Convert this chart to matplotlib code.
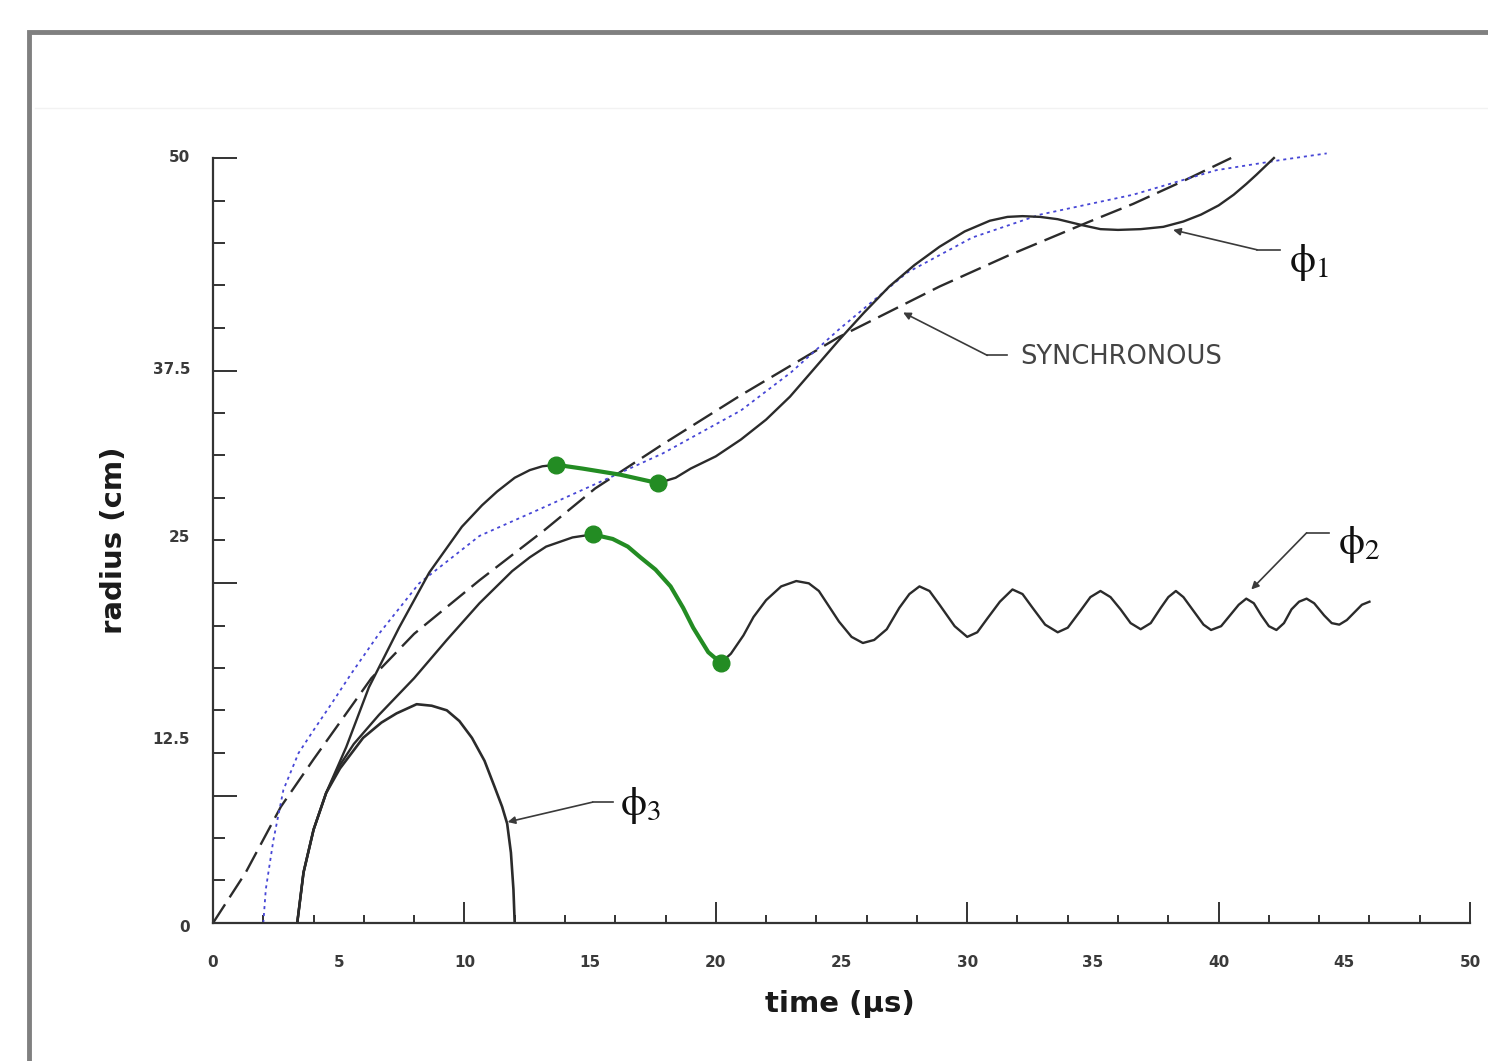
import matplotlib.pyplot as plt
from matplotlib.patches import Rectangle
from matplotlib.lines import Line2D

plt.rcParams['font.family'] = ['DejaVu Sans']
plt.rcParams['lines.scale_dashes'] = False
plt.rcParams['lines.solid_joinstyle'] = 'round'
plt.rcParams['lines.dash_joinstyle'] = 'round'

# --- axis decoration -------------------------------------------------------
x_long_ticks = [0, 10, 20, 30, 40, 50]
x_short_ticks = list(range(0, 51, 2))
xtick_labels = ['0', '5', '10', '15', '20', '25', '30', '35', '40', '45', '50']
xtick_label_pos = [0, 5, 10, 15, 20, 25, 30, 35, 40, 45, 50]

y_long_ticks = [50, 36.11, 22.22, 8.33]
y_short_ticks = [0, 2.78, 5.56, 8.33, 11.11, 13.89, 16.67, 19.44, 22.22, 25.0,
                 27.78, 30.56, 33.33, 36.11, 38.89, 41.67, 44.44, 47.22, 50]
ytick_labels = ['50', '37.5', '25', '12.5', '0']
ytick_label_pos = [50, 36.2, 25.2, 12.0, -0.3]

# --- curves (time in us, radius in cm) --------------------------------------
sync_t = [0, 1.3, 2.7, 4.0, 6.3, 8.0, 10.6, 13.2, 15.2, 17.9, 21.0, 24.9,
          28.9, 31.6, 34.8, 36.6, 38.6, 40.5]
sync_r = [0, 3.3, 7.6, 10.7, 16.0, 18.9, 22.4, 25.7, 28.4, 31.3, 34.5, 38.3,
          41.6, 43.6, 45.8, 47.0, 48.5, 50.0]

blue_t = [2.0, 2.1, 2.4, 2.8, 3.4, 4.0, 4.7, 5.5, 6.6, 8.2, 10.6, 13.2, 15.9,
          17.9, 21.0, 23.0, 24.9, 27.6, 30.2, 32.9, 36.6, 39.9, 42.6, 44.3]
blue_r = [0, 2.2, 5.4, 8.7, 11.1, 12.6, 14.3, 16.3, 18.9, 22.2, 25.3, 27.2,
          29.2, 30.7, 33.5, 36.0, 38.8, 42.5, 44.8, 46.3, 47.6, 49.2, 49.9, 50.3]

phi1_a_t = [3.35, 3.6, 4.0, 4.5, 5.3, 6.2, 7.4, 8.6, 9.9, 10.7, 11.3, 12.0,
            12.6, 13.1, 13.65]
phi1_a_r = [0, 3.3, 6.1, 8.5, 11.5, 15.4, 19.3, 22.9, 25.9, 27.3, 28.2, 29.1,
            29.6, 29.85, 29.95]

green1_t = [13.65, 14.7, 16.2, 17.7]
green1_r = [29.95, 29.7, 29.3, 28.75]

phi1_b_t = [17.7, 18.4, 19.0, 20.0, 21.0, 22.0, 22.95, 23.9, 24.9, 25.9, 26.9,
            27.9, 28.9, 29.9, 30.9, 31.6, 32.2, 32.9, 33.6, 34.6, 35.3, 36.0,
            36.9, 37.8, 38.6, 39.3, 40.0, 40.6, 41.1, 41.5, 42.2]
phi1_b_r = [28.75, 29.1, 29.7, 30.5, 31.6, 32.9, 34.4, 36.2, 38.1, 39.9, 41.6,
            43.0, 44.2, 45.2, 45.9, 46.15, 46.2, 46.15, 46.0, 45.6, 45.35, 45.3,
            45.35, 45.5, 45.85, 46.3, 46.9, 47.6, 48.3, 48.9, 50.0]

phi2_a_t = [3.35, 3.6, 4.0, 4.5, 5.0, 5.6, 6.6, 8.0, 9.3, 10.6, 11.9, 12.6,
            13.25, 14.3, 15.1]
phi2_a_r = [0, 3.3, 6.1, 8.5, 10.2, 11.7, 13.6, 16.0, 18.5, 20.9, 23.0, 23.9,
            24.6, 25.2, 25.4]

green2_t = [15.1, 15.9, 16.5, 17.0, 17.6, 18.2, 18.7, 19.1, 19.7, 20.2]
green2_r = [25.4, 25.1, 24.6, 23.9, 23.1, 22.0, 20.6, 19.3, 17.7, 17.0]

phi2_b_t = [20.2, 20.6, 21.1, 21.5, 22.0, 22.6, 23.2, 23.7, 24.1, 24.5, 24.9,
            25.4, 25.85, 26.3, 26.8, 27.3, 27.7, 28.1, 28.5, 28.9, 29.5, 30.0,
            30.4, 30.8, 31.3, 31.8, 32.2, 32.6, 33.1, 33.6, 34.0, 34.5, 34.9,
            35.3, 35.7, 36.1, 36.5, 36.9, 37.3, 37.7, 38.0, 38.3, 38.6, 39.0,
            39.4, 39.7, 40.1, 40.45, 40.8, 41.1, 41.4, 41.7, 42.0, 42.3, 42.6,
            42.9, 43.2, 43.5, 43.8, 44.2, 44.5, 44.8, 45.1, 45.4, 45.7, 46.0]
phi2_b_r = [17.0, 17.6, 18.8, 20.0, 21.1, 22.0, 22.35, 22.2, 21.7, 20.7, 19.7,
            18.7, 18.3, 18.5, 19.2, 20.6, 21.5, 22.0, 21.7, 20.8, 19.4, 18.7,
            19.0, 19.9, 21.0, 21.8, 21.5, 20.6, 19.5, 19.0, 19.3, 20.4, 21.3,
            21.7, 21.3, 20.5, 19.6, 19.2, 19.6, 20.6, 21.3, 21.7, 21.3, 20.4,
            19.5, 19.15, 19.4, 20.1, 20.8, 21.2, 20.9, 20.1, 19.4, 19.15, 19.6,
            20.5, 21.0, 21.2, 20.9, 20.1, 19.6, 19.5, 19.8, 20.3, 20.8, 21.0]

phi3_t = [3.35, 3.6, 4.0, 4.5, 5.05, 5.97, 6.7, 7.3, 8.1, 8.7, 9.3, 9.8, 10.3,
          10.8, 11.2, 11.5, 11.7, 11.85, 11.95, 12.0]
phi3_r = [0, 3.3, 6.1, 8.5, 10.1, 12.1, 13.1, 13.7, 14.3, 14.2, 13.9, 13.2,
          12.1, 10.6, 8.9, 7.6, 6.5, 4.6, 2.2, 0]

# pointer callouts: (arrow tip, elbow, end of short horizontal, label position)
callouts = [
    ((38.19, 45.3), (41.53, 44.0), 42.44, (43.6, 43.2), r'$\mathrm{\phi}_{1}$'),
    ((41.3, 21.8), (43.5, 25.5), 44.4, (45.6, 24.8), r'$\mathrm{\phi}_{2}$'),
    ((11.72, 6.6), (15.1, 7.9), 15.9, (17.0, 7.7), r'$\mathrm{\phi}_{3}$'),
]
sync_tip, sync_elbow, sync_hend, sync_text = (27.45, 39.9), (30.8, 37.1), 31.6, (32.1, 37.0)

axis_col = '#333333'
curve_col = '#2b2b2b'
green = '#238c23'
blue = '#4646d6'

fig = plt.figure(figsize=(14.88, 10.61), dpi=100)
ax = fig.add_axes([0.14315, 0.13007, 0.84476, 0.72102])
ax.set_xlim(0, 50)
ax.set_ylim(0, 50)

for s in ['top', 'right']:
    ax.spines[s].set_visible(False)
for s in ['left', 'bottom']:
    ax.spines[s].set_color(axis_col)
    ax.spines[s].set_linewidth(1.6)

ax.set_xticks(x_long_ticks)
ax.set_xticks(x_short_ticks, minor=True)
ax.set_yticks(y_long_ticks)
ax.set_yticks(y_short_ticks, minor=True)
ax.tick_params(which='both', direction='in', labelbottom=False, labelleft=False,
               color=axis_col, width=1.4)
ax.tick_params(axis='x', which='major', length=15)
ax.tick_params(axis='x', which='minor', length=6)
ax.tick_params(axis='y', which='major', length=17)
ax.tick_params(axis='y', which='minor', length=8.5)

for lab, pos in zip(xtick_labels, xtick_label_pos):
    ax.text(pos, -0.051, lab, transform=ax.get_xaxis_transform(), ha='center',
            va='center', fontsize=11, fontweight='bold', color='#3a3a3a', clip_on=False)
for lab, pos in zip(ytick_labels, ytick_label_pos):
    ax.text(-0.0183, pos, lab, transform=ax.get_yaxis_transform(), ha='right',
            va='center', fontsize=11, fontweight='bold', color='#3a3a3a', clip_on=False)

ax.set_xlabel('time (µs)', fontsize=21, fontweight='bold', color='#1a1a1a')
ax.xaxis.set_label_coords(0.499, -0.088)
ax.set_ylabel('radius (cm)', fontsize=21, fontweight='bold', color='#1a1a1a')
ax.yaxis.set_label_coords(-0.0676, 0.5)

# curves
ax.plot(sync_t, sync_r, color=curve_col, lw=1.7, dashes=(16, 6), clip_on=False)
ax.plot(blue_t, blue_r, color=blue, lw=1.3, dashes=(2.2, 2.8), clip_on=False)
ax.plot(phi1_a_t, phi1_a_r, color=curve_col, lw=1.7)
ax.plot(phi1_b_t, phi1_b_r, color=curve_col, lw=1.7, clip_on=False)
ax.plot(phi2_a_t, phi2_a_r, color=curve_col, lw=1.7)
ax.plot(phi2_b_t, phi2_b_r, color=curve_col, lw=1.7)
ax.plot(phi3_t, phi3_r, color=curve_col, lw=1.9)

for gt, gr in [(green1_t, green1_r), (green2_t, green2_r)]:
    ax.plot(gt, gr, color=green, lw=3.0, marker='o', markersize=12,
            markevery=[0, len(gt) - 1], solid_capstyle='round', zorder=5)

# callouts
arrow = dict(arrowstyle='-|>', color='#3a3a3a', lw=1.2, mutation_scale=11,
             shrinkA=0, shrinkB=0)
for tip, elbow, hend, lpos, txt in callouts:
    ax.plot([elbow[0], hend], [elbow[1], elbow[1]], color='#3a3a3a', lw=1.2)
    ax.annotate('', xy=tip, xytext=elbow, arrowprops=arrow)
    ax.text(lpos[0], lpos[1], txt, fontsize=30, math_fontfamily='stix',
            ha='center', va='center', color='#111111')
ax.plot([sync_elbow[0], sync_hend], [sync_elbow[1], sync_elbow[1]], color='#3a3a3a', lw=1.2)
ax.annotate('', xy=sync_tip, xytext=sync_elbow, arrowprops=arrow)
ax.text(sync_text[0], sync_text[1], 'SYNCHRONOUS', fontsize=18.5, color='#444444',
        ha='left', va='center')

# scanned page frame
fig.add_artist(Rectangle((29 / 1488, -0.2), 2.0, 1 - 32 / 1061 + 0.2, fill=False,
                         edgecolor='#808080', lw=3.5, transform=fig.transFigure))
fig.add_artist(Line2D([35 / 1488, 1], [1 - 108 / 1061] * 2, color='#f2f2f2', lw=1,
                      transform=fig.transFigure))

fig.savefig('out.png', dpi=100)
